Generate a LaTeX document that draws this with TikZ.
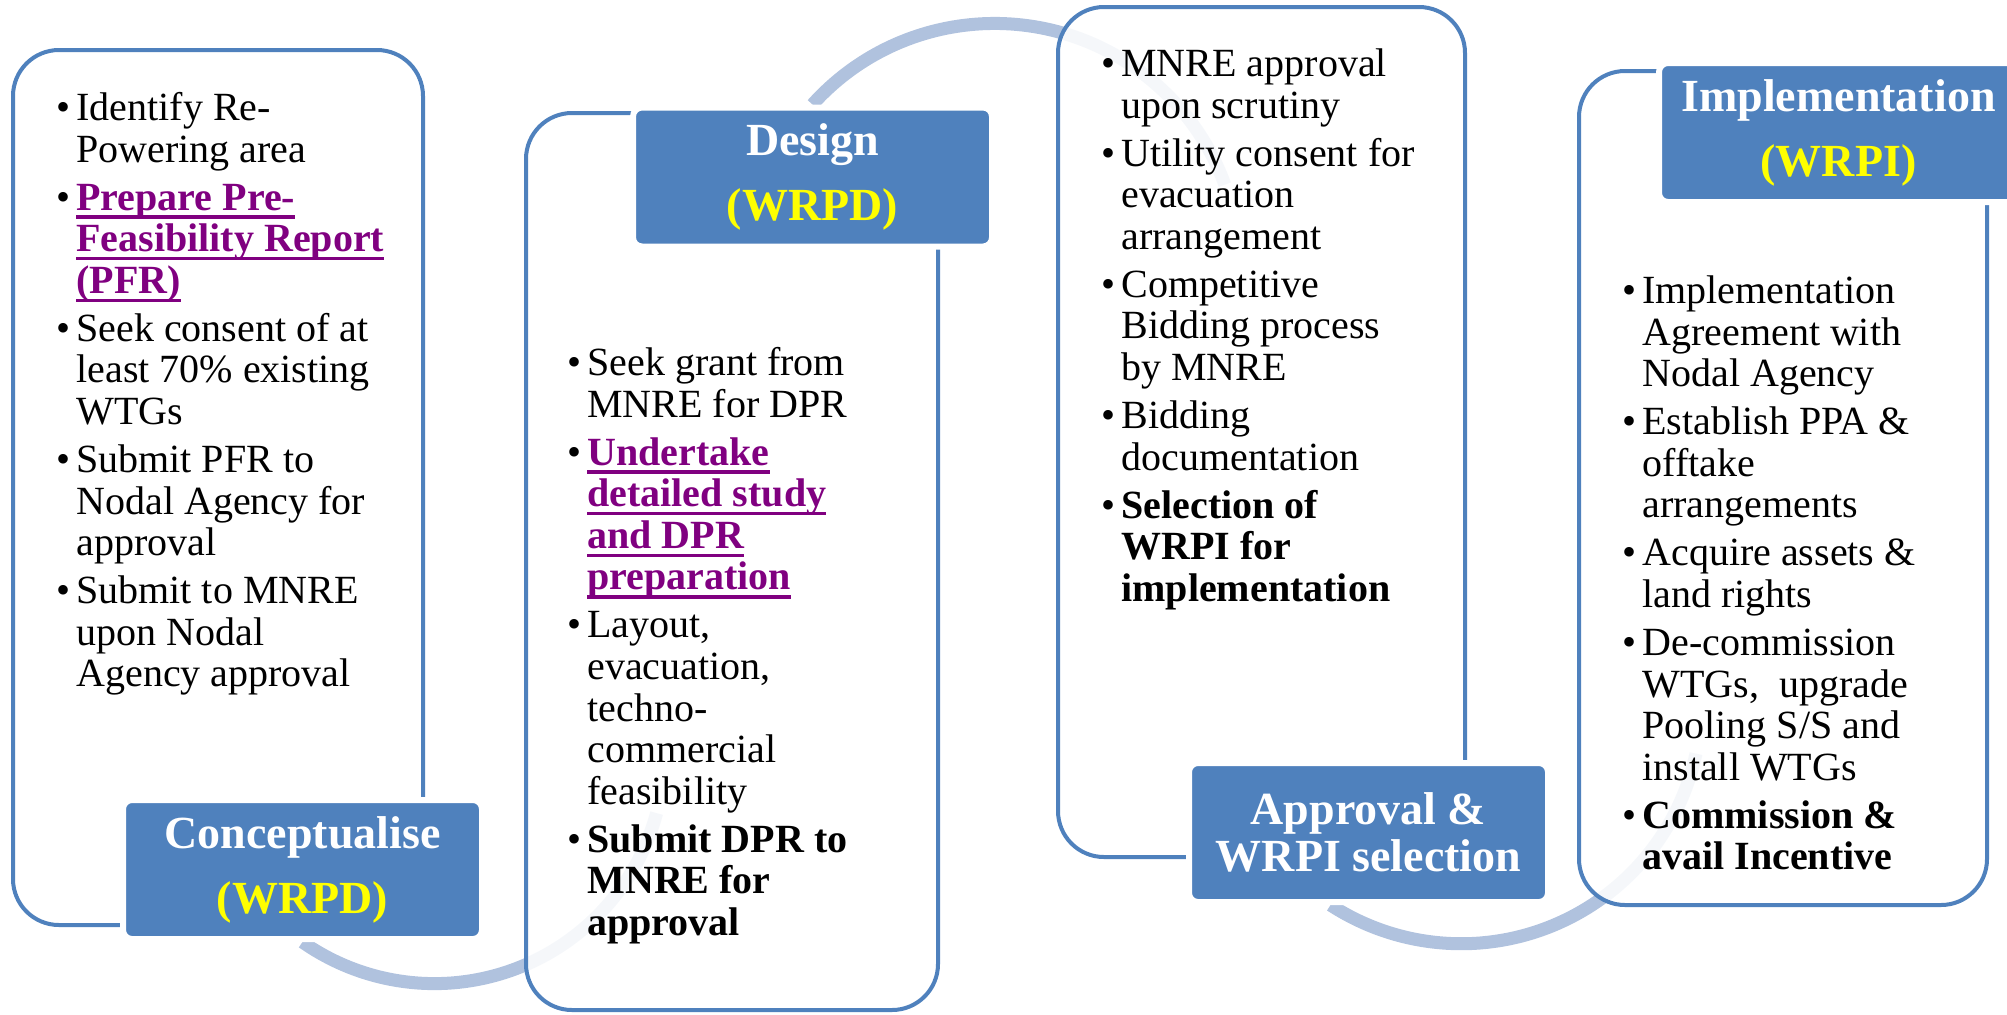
\documentclass[tikz,border=0pt]{standalone}
\usepackage{fontspec}
\setmainfont{Liberation Serif}
\usepackage{xcolor}
\usepackage{tikz}
\usetikzlibrary{positioning}

\definecolor{stageblue}{RGB}{79,129,189}
\definecolor{arcblue}{RGB}{176,194,222}
\definecolor{linkpurple}{RGB}{128,0,128}
\definecolor{tagyellow}{RGB}{255,255,0}

\pgfdeclarelayer{back}
\pgfsetlayers{back,main}

% purple underlined step
\newcommand{\hl}[1]{\textcolor{linkpurple}{\setbox0\hbox{\bfseries #1}\rlap{\rule[-4.3pt]{\wd0}{1.7pt}}\box0}}

\begin{document}
\begin{tikzpicture}[
    x=0.5pt, y=-0.5pt,
    stage/.style={rectangle, rounded corners=23pt, draw=stageblue, line width=2pt, fill=white, fill opacity=0.88},
    tag/.style={rectangle, rounded corners=4.5pt, draw=white, line width=3pt, fill=stageblue, text=white, minimum width=179.5pt, minimum height=69.5pt, align=center, font=\fontsize{23}{23.5}\selectfont\bfseries},
    list/.style={anchor=north west, inner sep=0pt, font=\fontsize{20}{20.8}\selectfont},
    flow/.style={draw=arcblue, line width=6.5pt}
]
\useasboundingbox (0,0) rectangle (2007,1014);

% STAGES
\node[stage, minimum width=205pt, minimum height=437.5pt] (box1) at (218,487.5) {};
\node[stage, minimum width=206pt, minimum height=448.5pt] (box2) at (732,561.5) {};
\node[stage, minimum width=203.5pt, minimum height=425pt] (box3) at (1261.5,432) {};
\node[stage, minimum width=204pt, minimum height=417pt] (box4) at (1783,488) {};

% TAGS
\node[tag] (lab1) at (302.5,869.5) {Conceptualise\\[9pt]\textcolor{tagyellow}{(WRPD)}};
\node[tag] (lab2) at (812.5,177) {Design\\[9pt]\textcolor{tagyellow}{(WRPD)}};
\node[tag] (lab3) at (1368.5,832.5) {Approval \&\\WRPI selection};
\node[tag] (lab4) at (1838.5,132.5) {Implementation\\[9pt]\textcolor{tagyellow}{(WRPI)}};

% ARCS
\begin{pgfonlayer}{back}
\draw[flow] (lab1.south) arc[start angle=-125, end angle=-15, radius=115pt];
\draw[flow] (lab2.north) arc[start angle=138, end angle=20, radius=122.5pt];
\draw[flow] ([xshift=-19pt]lab3.south) arc[start angle=-123, end angle=-12, radius=120pt];
\end{pgfonlayer}

% STEPS
\node[list] (list1) at (56,91) {\begin{tabular}{@{}p{10pt}@{}l@{}}
\textbullet & Identify Re-\\
 & Powering area\\[3.2pt]
\textbullet & \hl{Prepare Pre-}\\
 & \hl{Feasibility Report}\\
 & \hl{(PFR)}\\[3.2pt]
\textbullet & Seek consent of at\\
 & least 70\% existing\\
 & WTGs\\[3.2pt]
\textbullet & Submit PFR to\\
 & Nodal Agency for\\
 & approval\\[3.2pt]
\textbullet & Submit to MNRE\\
 & upon Nodal\\
 & Agency approval
\end{tabular}};

\node[list] (list2) at (567,346) {\begin{tabular}{@{}p{10pt}@{}l@{}}
\textbullet & Seek grant from\\
 & MNRE for DPR\\[3.2pt]
\textbullet & \hl{Undertake}\\
 & \hl{detailed study}\\
 & \hl{and DPR}\\
 & \hl{preparation}\\[3.2pt]
\textbullet & Layout,\\
 & evacuation,\\
 & techno-\\
 & commercial\\
 & feasibility\\[3.2pt]
\textbullet & \textbf{Submit DPR to}\\
 & \textbf{MNRE for}\\
 & \textbf{approval}
\end{tabular}};

\node[list] (list3) at (1101,47) {\begin{tabular}{@{}p{10pt}@{}l@{}}
\textbullet & MNRE approval\\
 & upon scrutiny\\[3.2pt]
\textbullet & Utility consent for\\
 & evacuation\\
 & arrangement\\[3.2pt]
\textbullet & Competitive\\
 & Bidding process\\
 & by MNRE\\[3.2pt]
\textbullet & Bidding\\
 & documentation\\[3.2pt]
\textbullet & \textbf{Selection of}\\
 & \textbf{WRPI for}\\
 & \textbf{implementation}
\end{tabular}};

\node[list] (list4) at (1622,274) {\begin{tabular}{@{}p{10pt}@{}l@{}}
\textbullet & Implementation\\
 & Agreement with\\
 & Nodal Agency\\[3.2pt]
\textbullet & Establish PPA \&\\
 & offtake\\
 & arrangements\\[3.2pt]
\textbullet & Acquire assets \&\\
 & land rights\\[3.2pt]
\textbullet & De-commission\\
 & WTGs,\ \ upgrade\\
 & Pooling S/S and\\
 & install WTGs\\[3.2pt]
\textbullet & \textbf{Commission \&}\\
 & \textbf{avail Incentive}
\end{tabular}};

\end{tikzpicture}
\end{document}
